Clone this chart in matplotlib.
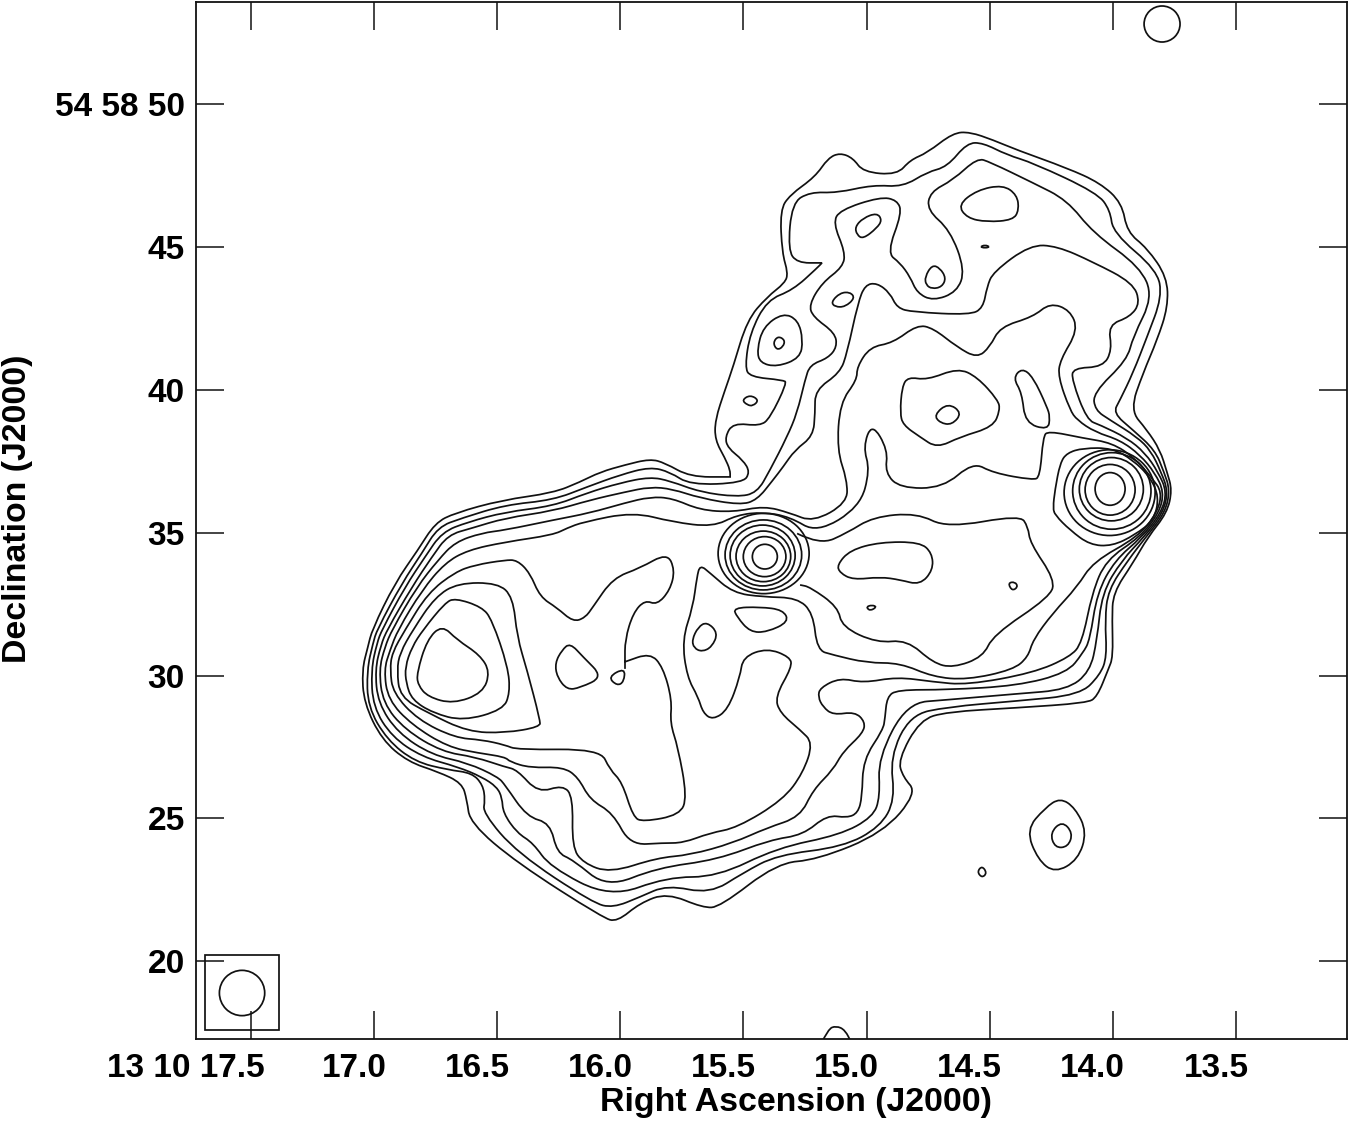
import matplotlib
matplotlib.use("Agg")
import matplotlib.pyplot as plt
from matplotlib.patches import PathPatch, Ellipse, Rectangle
from matplotlib.path import Path
from matplotlib.transforms import ScaledTranslation

plt.rcParams['font.family'] = ['Liberation Sans', 'DejaVu Sans']

# contour lines, (RA seconds, Dec arcsec)
level_1 = [(17.025,31.00),(17.008,31.60),(16.915,33.24),(16.822,34.39),(16.752,35.34),(16.671,35.69),(16.48,36.14),(16.273,36.39),(16.164,36.77),(16.082,37.12),(15.981,37.37),(15.879,37.58),(15.819,37.44),(15.717,36.95),(15.554,36.95),(15.554,36.95),(15.554,37.19),(15.575,37.61),(15.615,38.24),(15.615,38.94),(15.575,39.99),(15.542,40.80),(15.485,42.44),(15.404,43.25),(15.331,43.74),(15.319,44.09),(15.343,44.79),(15.351,46.29),(15.311,46.82),(15.209,47.45),(15.156,48.11),(15.108,48.29),(15.055,48.11),(15.014,47.62),(14.876,47.52),(14.823,48.04),(14.754,48.29),(14.649,48.99),(14.58,49.02),(14.486,48.74),(14.389,48.39),(14.186,47.76),(14.052,47.24),(13.963,46.54),(13.942,45.52),(13.861,44.96),(13.78,43.95),(13.776,42.90),(13.82,41.74),(13.877,40.59),(13.93,39.29),(13.861,38.59),(13.808,37.89),(13.78,37.12),(13.759,36.49),(13.78,35.69),(13.857,34.85),(13.918,33.94),(13.999,32.89),(14.003,31.95),(13.999,30.65),(14.019,30.20),(14.064,29.25),(14.105,29.04),(14.389,28.87),(14.673,28.73),(14.783,28.45),(14.872,27.05),(14.852,26.45),(14.795,25.89),(14.933,24.49),(15.201,23.55),(15.364,23.44),(15.595,21.90),(15.664,21.87),(15.81,22.39),(15.92,22.04),(16.013,21.38),(16.07,21.52),(16.419,23.44),(16.61,24.84),(16.623,25.65),(16.643,26.24),(16.74,26.63),(16.862,26.98),(16.968,27.75),(17.041,29.04),(17.049,30.20)]
level_2 = [(17.004,31.14),(16.988,31.60),(16.886,33.24),(16.805,34.29),(16.74,35.20),(16.643,35.51),(16.468,35.97),(16.273,36.14),(16.135,36.60),(16.001,37.02),(15.879,37.30),(15.798,37.12),(15.717,36.67),(15.502,36.74),(15.473,37.12),(15.502,37.54),(15.563,37.96),(15.575,38.35),(15.542,38.84),(15.433,38.73),(15.392,39.01),(15.323,40.24),(15.339,40.34),(15.473,40.45),(15.494,40.80),(15.473,41.99),(15.404,43.14),(15.299,43.49),(15.201,44.26),(15.181,44.44),(15.181,44.44),(15.282,44.44),(15.319,44.89),(15.303,46.54),(15.23,46.92),(15.12,46.89),(14.974,47.17),(14.852,47.10),(14.754,47.62),(14.673,47.80),(14.592,48.64),(14.527,48.64),(14.43,48.22),(14.324,47.94),(14.064,46.89),(14.011,46.29),(13.999,45.49),(13.82,44.19),(13.80,43.25),(13.861,41.85),(13.918,40.59),(13.971,39.64),(13.999,39.19),(13.918,38.59),(13.829,37.89),(13.792,37.12),(13.768,36.49),(13.788,35.69),(13.865,34.85),(13.938,34.04),(14.019,32.99),(14.032,31.95),(14.024,30.65),(14.052,30.02),(14.133,29.32),(14.389,29.11),(14.673,28.90),(14.823,28.62),(14.905,27.15),(14.884,25.65),(14.945,24.70),(15.096,24.00),(15.364,23.72),(15.502,23.09),(15.636,22.36),(15.81,22.67),(15.92,22.25),(16.03,21.87),(16.111,22.04),(16.419,23.79),(16.558,25.19),(16.549,25.65),(16.558,26.17),(16.602,26.59),(16.70,26.70),(16.834,26.98),(16.947,27.75),(17.025,28.90),(17.029,30.20)]
level_3 = [(16.988,31.14),(16.968,31.60),(16.874,33.10),(16.793,34.15),(16.724,35.02),(16.619,35.37),(16.468,35.72),(16.273,35.93),(16.135,36.39),(16.001,36.74),(15.879,36.95),(15.798,36.81),(15.676,36.42),(15.526,36.25),(15.445,36.39),(15.392,37.19),(15.323,38.35),(15.282,39.19),(15.25,40.34),(15.23,40.87),(15.156,41.11),(15.12,41.50),(15.128,41.99),(15.217,42.55),(15.234,42.97),(15.181,43.74),(15.096,44.30),(15.087,44.82),(15.136,45.84),(15.108,46.29),(14.945,46.75),(14.876,46.64),(14.856,46.19),(14.917,44.79),(14.864,44.44),(14.823,43.95),(14.795,43.39),(14.73,43.11),(14.633,43.42),(14.60,44.19),(14.661,45.59),(14.754,46.29),(14.742,46.92),(14.649,47.34),(14.551,48.11),(14.499,47.97),(14.324,47.24),(14.186,46.64),(14.08,45.49),(13.889,44.30),(13.837,43.25),(13.918,41.85),(13.942,41.04),(14.08,39.89),(14.072,39.29),(14.011,38.94),(13.902,38.35),(13.845,37.86),(13.804,37.12),(13.776,36.46),(13.796,35.69),(13.873,34.85),(13.963,34.04),(14.044,32.89),(14.064,31.25),(14.093,30.13),(14.186,29.50),(14.389,29.36),(14.673,29.15),(14.836,29.04),(14.953,27.12),(14.945,25.75),(14.974,25.05),(15.108,24.42),(15.364,23.97),(15.607,22.95),(15.81,22.95),(16.042,22.22),(16.285,23.30),(16.354,24.14),(16.419,24.49),(16.476,25.19),(16.48,25.72),(16.501,26.10),(16.562,26.45),(16.659,26.80),(16.805,27.15),(16.927,27.85),(17.004,28.90),(17.012,30.20)]
level_4 = [(16.972,31.07),(16.947,31.60),(16.846,33.10),(16.765,34.15),(16.70,34.92),(16.602,35.16),(16.468,35.51),(16.273,35.76),(16.123,36.14),(15.981,36.42),(15.879,36.60),(15.79,36.53),(15.676,36.21),(15.514,35.97),(15.445,36.14),(15.38,36.84),(15.339,37.30),(15.291,37.89),(15.217,38.38),(15.209,39.19),(15.209,39.99),(15.108,40.59),(15.079,41.29),(15.035,43.04),(15.006,43.67),(14.958,43.74),(14.905,43.39),(14.876,42.86),(14.811,42.72),(14.58,42.62),(14.527,42.86),(14.511,43.60),(14.486,44.12),(14.336,45.07),(14.227,45.03),(14.08,44.47),(13.918,43.74),(13.889,43.04),(13.93,42.55),(14.019,42.27),(14.003,41.39),(14.04,40.80),(14.162,40.76),(14.166,40.34),(14.105,38.94),(14.052,38.77),(13.942,38.31),(13.869,37.79),(13.816,37.12),(13.78,36.42),(13.804,35.69),(13.881,34.85),(13.991,34.04),(14.064,32.89),(14.093,31.25),(14.121,30.79),(14.186,30.09),(14.389,29.64),(14.673,29.50),(14.876,29.50),(14.917,29.25),(14.925,28.52),(14.933,28.10),(15.014,27.05),(15.018,25.75),(15.035,25.19),(15.079,25.02),(15.161,25.12),(15.258,24.42),(15.392,24.25),(15.607,23.55),(15.851,23.27),(16.054,22.57),(16.192,23.55),(16.257,23.79),(16.285,24.84),(16.379,25.05),(16.468,26.17),(16.497,26.45),(16.619,26.94),(16.765,27.22),(16.903,27.99),(16.984,29.04),(16.996,30.20)]
level_5 = [(16.956,31.00),(16.927,31.60),(16.826,33.10),(16.74,34.04),(16.671,34.67),(16.562,34.99),(16.468,35.09),(16.273,35.44),(16.123,35.69),(15.981,36.04),(15.879,36.25),(15.79,36.21),(15.676,35.79),(15.542,35.72),(15.416,35.93),(15.311,35.69),(15.217,35.37),(15.079,36.04),(15.079,36.84),(15.12,37.89),(15.108,39.54),(15.039,40.34),(15.039,40.80),(14.986,41.50),(14.893,41.64),(14.795,42.27),(14.73,42.16),(14.633,41.50),(14.551,41.11),(14.499,41.50),(14.458,42.20),(14.324,42.55),(14.255,43.04),(14.174,42.79),(14.141,42.09),(14.214,41.04),(14.222,40.45),(14.174,39.29),(14.145,38.94),(14.072,38.52),(13.971,38.24),(13.889,37.72),(13.829,37.09),(13.792,36.42),(13.812,35.69),(13.889,34.85),(14.028,34.04),(14.084,32.89),(14.125,31.14),(14.174,30.65),(14.324,30.09),(14.592,29.67),(14.73,29.78),(14.876,29.95),(15.014,29.74),(15.108,29.92),(15.189,29.57),(15.197,29.25),(15.177,28.90),(15.136,28.62),(15.047,28.73),(15.006,28.38),(15.014,27.99),(15.096,27.33),(15.136,26.70),(15.217,26.00),(15.27,25.05),(15.404,24.67),(15.542,24.14),(15.717,23.72),(15.851,23.62),(16.042,23.09),(16.151,23.44),(16.196,24.00),(16.192,25.75),(16.233,26.17),(16.334,25.89),(16.419,26.70),(16.468,26.80),(16.59,27.15),(16.724,27.33),(16.874,28.10),(16.964,29.04),(16.98,30.20)]
level_6 = [(16.935,30.89),(16.903,31.60),(16.805,32.99),(16.712,33.94),(16.619,34.39),(16.468,34.67),(16.273,34.92),(16.216,35.16),(16.151,35.37),(15.948,35.72),(15.786,35.37),(15.624,35.20),(15.526,35.62),(15.42,35.72),(15.311,35.55),(15.201,34.99),(15.027,35.90),(14.986,37.19),(15.014,38.00),(14.978,38.84),(14.913,37.89),(14.925,37.09),(14.864,36.56),(14.69,36.56),(14.568,37.47),(14.486,37.09),(14.324,36.84),(14.296,36.95),(14.283,38.35),(14.263,38.56),(14.121,38.31),(14.003,38.14),(13.91,37.61),(13.841,36.91),(13.80,36.42),(13.82,35.69),(13.898,34.85),(14.08,33.98),(14.145,33.10),(14.243,32.19),(14.324,31.25),(14.344,30.65),(14.405,30.20),(14.592,29.85),(14.73,29.95),(14.864,30.44),(14.998,30.44),(15.136,30.72),(15.201,30.89),(15.217,32.19),(15.282,32.72),(15.42,32.75),(15.542,32.89),(15.636,33.59),(15.676,33.87),(15.689,33.45),(15.705,32.40),(15.749,31.25),(15.729,29.95),(15.684,29.25),(15.664,28.69),(15.624,28.45),(15.563,28.80),(15.514,29.95),(15.502,30.65),(15.404,30.96),(15.311,30.65),(15.303,30.30),(15.372,29.25),(15.351,28.69),(15.27,28.10),(15.217,27.64),(15.258,26.59),(15.339,25.65),(15.526,24.67),(15.636,24.49),(15.745,24.14),(15.827,24.14),(15.961,24.07),(16.03,25.19),(16.123,25.65),(16.172,26.45),(16.233,26.80),(16.367,26.77),(16.448,26.98),(16.468,27.15),(16.578,27.29),(16.70,27.50),(16.846,28.27),(16.943,29.15),(16.96,30.20)]
level_7 = [(16.927,30.79),(16.874,31.60),(16.781,32.89),(16.671,33.62),(16.59,33.87),(16.468,34.04),(16.419,34.04),(16.367,33.59),(16.326,32.75),(16.257,32.37),(16.192,31.88),(16.143,32.02),(16.111,32.40),(16.03,33.41),(15.92,33.76),(15.81,34.29),(15.778,33.69),(15.798,32.99),(15.851,32.47),(15.90,32.64),(15.948,32.19),(15.981,31.25),(15.981,30.48),(15.981,30.48),(15.879,30.79),(15.827,30.30),(15.79,29.15),(15.798,28.34),(15.766,27.50),(15.729,25.75),(15.758,25.12),(15.908,24.88),(15.948,25.05),(15.993,26.28),(16.042,26.70),(16.082,27.43),(16.419,27.40),(16.468,27.57),(16.562,27.75),(16.671,27.82),(16.822,28.45),(16.923,29.39),(16.935,30.20)]
level_8 = [(16.907,30.20),(16.895,30.79),(16.842,31.60),(16.752,32.75),(16.659,33.24),(16.497,33.24),(16.436,32.75),(16.419,31.35),(16.379,30.20),(16.326,28.45),(16.326,28.20),(16.468,27.99),(16.619,28.03),(16.781,28.69),(16.895,29.25)]
level_9 = [(16.874,30.30),(16.846,31.00),(16.801,31.60),(16.712,32.54),(16.671,32.71),(16.562,32.40),(16.521,31.95),(16.456,30.30),(16.448,29.39),(16.476,28.80),(16.639,28.41),(16.761,28.69),(16.846,29.15),(16.87,29.74)]
level_10 = [(16.826,30.09),(16.785,31.25),(16.724,31.77),(16.663,31.25),(16.57,30.72),(16.529,30.13),(16.558,29.39),(16.679,29.01),(16.781,29.25),(16.822,29.67)]

# the loop round the central core and the east part, open where it meets the core ring
core_loop = [(15.282,34.97),(15.189,34.57),(15.079,34.99),(14.974,35.55),(14.795,35.69),(14.673,35.16),(14.377,35.62),(14.344,35.20),(14.336,34.64),(14.235,33.35),(14.255,32.75),(14.486,31.42),(14.527,30.65),(14.649,30.27),(14.73,30.44),(14.836,31.25),(14.958,31.14),(15.10,31.70),(15.116,32.40),(15.23,33.10),(15.27,33.17)]

# small closed contours
loop_a = [(15.709,31.25),(15.684,31.70),(15.648,31.88),(15.603,31.49),(15.628,31.00),(15.668,30.83),(15.701,30.96)]
loop_b = [(16.265,30.44),(16.237,30.89),(16.204,31.14),(16.151,30.65),(16.07,29.95),(16.164,29.57),(16.216,29.50),(16.257,29.95)]
loop_c = [(16.05,29.95),(15.981,30.27),(15.985,29.78),(16.013,29.64)]
loop_d = [(15.542,32.37),(15.433,32.40),(15.339,32.30),(15.315,31.88),(15.404,31.52),(15.473,31.52),(15.526,32.05)]
loop_e = [(15.12,33.87),(15.067,34.39),(14.945,34.67),(14.783,34.67),(14.734,34.29),(14.73,33.69),(14.783,33.17),(14.864,33.35),(14.945,33.45),(15.055,33.35),(15.108,33.59)]
loop_f = [(14.426,33.24),(14.397,33.28),(14.385,33.10),(14.409,32.96)]
loop_g = [(15.002,32.40),(14.978,32.47),(14.958,32.40),(14.986,32.26)]
loop_h = [(14.405,40.41),(14.369,40.76),(14.324,40.45),(14.267,39.40),(14.255,39.05),(14.263,38.59),(14.356,38.84),(14.369,39.89)]
loop_i = [(14.864,39.19),(14.856,40.10),(14.832,40.45),(14.754,40.34),(14.629,40.76),(14.551,40.45),(14.466,39.64),(14.458,39.29),(14.486,38.70),(14.62,38.35),(14.714,37.96),(14.783,38.35),(14.852,38.77)]
loop_j = [(14.726,39.12),(14.669,39.54),(14.612,39.19),(14.653,38.77),(14.702,38.84)]
loop_k = [(14.629,46.47),(14.551,46.99),(14.446,47.17),(14.389,46.82),(14.381,46.29),(14.405,45.94),(14.511,45.87),(14.592,46.01)]
loop_l = [(14.539,45.00),(14.519,45.07),(14.499,45.00),(14.519,44.96)]
loop_m = [(15.047,45.70),(15.014,46.01),(14.958,46.19),(14.937,45.94),(14.958,45.66),(15.014,45.28),(15.039,45.42)]
loop_n = [(14.763,43.95),(14.734,44.37),(14.702,44.26),(14.677,43.91),(14.694,43.60),(14.734,43.53),(14.759,43.67)]
loop_o = [(15.144,43.07),(15.108,43.39),(15.067,43.42),(15.047,43.21),(15.087,42.90),(15.128,42.90)]
loop_p = [(15.445,41.39),(15.42,42.20),(15.339,42.69),(15.278,42.44),(15.258,41.74),(15.27,41.11),(15.364,40.80),(15.433,40.94)]
loop_q = [(15.38,41.64),(15.36,41.88),(15.331,41.74),(15.339,41.50),(15.364,41.39)]
loop_r = [(15.506,39.64),(15.473,39.82),(15.437,39.64),(15.461,39.43),(15.485,39.47)]
loop_s = [(14.352,24.60),(14.275,25.37),(14.214,25.72),(14.153,25.37),(14.105,24.53),(14.141,23.55),(14.235,23.09),(14.304,23.55)]
loop_t = [(14.255,24.49),(14.206,24.91),(14.162,24.49),(14.182,24.00),(14.235,23.97)]
loop_u = [(14.551,23.13),(14.531,23.34),(14.511,23.09),(14.531,22.92)]
east_outer = [(14.243,35.86),(14.235,36.49),(14.214,37.44),(14.186,37.79),(14.121,37.96),(14.003,37.96),(13.918,37.54),(13.849,36.95),(13.812,36.25),(13.833,35.44),(13.91,34.92),(14.003,34.53),(14.093,34.57),(14.174,35.09),(14.235,35.62)]
closed_lines = [level_1, level_2, level_3, level_4, level_5, level_6, level_7, level_8, level_9, level_10,
                loop_a, loop_b, loop_c, loop_d, loop_e, loop_f, loop_g, loop_h, loop_i, loop_j, loop_k,
                loop_l, loop_m, loop_n, loop_o, loop_p, loop_q, loop_r, loop_s, loop_t, loop_u, east_outer]

# open bits
bottom_arc = [(15.185,17.10),(15.156,17.63),(15.124,17.74),(15.087,17.60),(15.059,17.10)]
open_lines = [core_loop, bottom_arc]
link_ra = [15.981, 15.981]
link_dec = [30.27, 30.50]

# nearly round rings round the two cores: centre RA, centre Dec, width (s), height (arcsec)
core_rings = [(15.413,34.16,0.1015,0.864),(15.414,34.16,0.173,1.40),(15.419,34.17,0.222,1.77),
              (15.422,34.20,0.264,2.13),(15.419,34.22,0.311,2.45),(15.418,34.27,0.3696,2.81)]
east_rings = [(14.011,36.53,0.1218,1.143),(14.011,36.50,0.203,1.773),(14.006,36.52,0.26,2.216),
              (14.004,36.46,0.318,2.68),(14.013,36.40,0.3696,3.0)]

beam = (17.536, 18.89, 0.184, 1.585)
beam_box = (17.687, 17.60, 17.386, 20.22)
top_circle = (13.80, 52.80, 0.146, 1.26)

ra_ticks = [17.5, 17.0, 16.5, 16.0, 15.5, 15.0, 14.5, 14.0, 13.5]
ra_labels = ['13 10 17.5', '17.0', '16.5', '16.0', '15.5', '15.0', '14.5', '14.0', '13.5']
dec_ticks = [20, 25, 30, 35, 40, 45, 50]
dec_labels = ['20', '25', '30', '35', '40', '45', '54 58 50']


def smooth_path(points, closed=True):
    # read points are used as control points of quadratic curves
    if closed:
        start = ((points[-1][0] + points[0][0]) / 2, (points[-1][1] + points[0][1]) / 2)
        verts = [start]
        codes = [Path.MOVETO]
        for i in range(len(points)):
            next_pt = points[(i + 1) % len(points)]
            mid = ((points[i][0] + next_pt[0]) / 2, (points[i][1] + next_pt[1]) / 2)
            verts += [points[i], mid]
            codes += [Path.CURVE3, Path.CURVE3]
    else:
        verts = [points[0]]
        codes = [Path.MOVETO]
        for i in range(1, len(points) - 1):
            mid = ((points[i][0] + points[i + 1][0]) / 2, (points[i][1] + points[i + 1][1]) / 2)
            verts += [points[i], mid]
            codes += [Path.CURVE3, Path.CURVE3]
        verts.append(points[-1])
        codes.append(Path.LINETO)
    return Path(verts, codes)


fig = plt.figure(figsize=(13.5, 11.22), dpi=100)
ax = fig.add_axes([196 / 1350, 83 / 1122, 1151 / 1350, 1037 / 1122])
ink = '#111111'
lw = 1.25

for line in closed_lines:
    ax.add_patch(PathPatch(smooth_path(line, True), fill=False, ec=ink, lw=lw))
for line in open_lines:
    ax.add_patch(PathPatch(smooth_path(line, False), fill=False, ec=ink, lw=lw))
ax.plot(link_ra, link_dec, color=ink, lw=lw)

for ra, dec, w, h in core_rings + east_rings + [beam, top_circle]:
    ax.add_patch(Ellipse((ra, dec), w, h, fill=False, ec=ink, lw=lw))
ax.add_patch(Rectangle((beam_box[0], beam_box[1]), beam_box[2] - beam_box[0], beam_box[3] - beam_box[1],
                       fill=False, ec=ink, lw=lw))

ax.set_xlim(17.723, 13.049)
ax.set_ylim(17.28, 53.57)
ax.set_xticks(ra_ticks)
ax.set_xticklabels(ra_labels, fontsize=24, fontweight='bold')
ax.set_yticks(dec_ticks)
ax.set_yticklabels(dec_labels, fontsize=24, fontweight='bold')
ax.tick_params(axis='both', direction='in', length=20, width=1.1, top=True, right=True, color=ink)
ax.tick_params(axis='x', pad=10)
ax.tick_params(axis='y', pad=8)
for spine in ax.spines.values():
    spine.set_linewidth(1.3)
    spine.set_color(ink)

# the RA labels sit left of their ticks in the original
shift = ScaledTranslation(-0.20, 0, fig.dpi_scale_trans)
for i, label in enumerate(ax.get_xticklabels()):
    if i == 0:
        label.set_ha('right')
        label.set_transform(label.get_transform() + ScaledTranslation(0.14, 0, fig.dpi_scale_trans))
    else:
        label.set_transform(label.get_transform() + shift)

fig.text(796 / 1350, 1 - 1102 / 1122, 'Right Ascension (J2000)', ha='center', va='center',
         fontsize=24.4, fontweight='bold')
fig.text(18 / 1350, 1 - 509 / 1122, 'Declination (J2000)', rotation=90, ha='center', va='center',
         fontsize=24.4, fontweight='bold')

fig.savefig('out.png', dpi=100)
